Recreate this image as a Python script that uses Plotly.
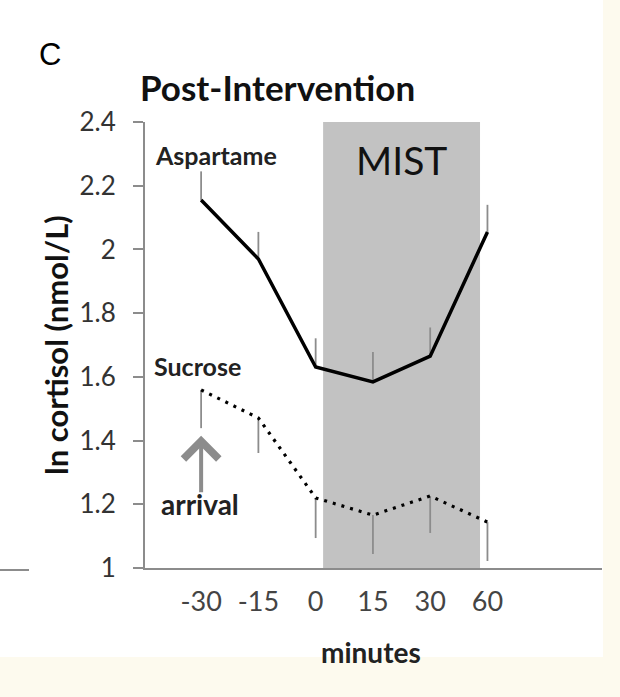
import plotly.graph_objects as go

# ---- data ----
minutes = ["-30", "-15", "0", "15", "30", "60"]
aspartame = [2.155, 1.97, 1.631, 1.584, 1.665, 2.055]
aspartame_err = [0.09, 0.085, 0.09, 0.094, 0.09, 0.085]
sucrose = [1.559, 1.471, 1.22, 1.166, 1.226, 1.144]
sucrose_err = [0.12, 0.11, 0.126, 0.122, 0.116, 0.122]
y_ticks = [1, 1.2, 1.4, 1.6, 1.8, 2, 2.2, 2.4]

W, H = 620, 697
L, R, T, B = 145, 602, 122, 568  # plot area in pixels


def px_x(p):
    return (p - L) / (R - L)


def px_y(p):
    return (B - p) / (B - T)


CREAM = "#fdfaee"
GRAY = "#8c8c8c"
FONT = "Lato"

fig = go.Figure()

fig.add_trace(go.Scatter(
    x=minutes, y=aspartame, mode="lines", name="Aspartame",
    line=dict(color="black", width=3.5),
    error_y=dict(type="data", symmetric=False, array=aspartame_err,
                 arrayminus=[0] * len(aspartame_err), width=0,
                 thickness=1.8, color=GRAY),
    showlegend=False,
))
fig.add_trace(go.Scatter(
    x=minutes, y=sucrose, mode="lines", name="Sucrose",
    line=dict(color="black", width=3.2, dash="3px,6px"),
    error_y=dict(type="data", symmetric=False, array=[0] * len(sucrose_err),
                 arrayminus=sucrose_err, width=0,
                 thickness=1.8, color=GRAY),
    showlegend=False,
))

shapes = [
    # white page area
    dict(type="rect", xref="paper", yref="paper", x0=px_x(0), x1=px_x(603),
         y0=px_y(657), y1=px_y(0), fillcolor="white", line=dict(width=0),
         layer="below"),
    # MIST shaded window
    dict(type="rect", xref="x", yref="y", x0=2.13, x1=4.87, y0=1, y1=2.4,
         fillcolor="#c2c2c2", line=dict(width=0), layer="below"),
    # stray axis line from neighbouring panel
    dict(type="line", xref="paper", yref="paper", x0=px_x(0), x1=px_x(29),
         y0=px_y(570), y1=px_y(570), line=dict(color=GRAY, width=2)),
]

ann = []


def text(t, x, y, size, bold=False, family=FONT, color="black", **kw):
    ann.append(dict(text=f"<b>{t}</b>" if bold else t, xref="paper", yref="paper",
                    x=px_x(x), y=px_y(y), showarrow=False,
                    font=dict(family=family, size=size, color=color),
                    xanchor="center", yanchor="middle", **kw))


text("C", 50, 54, 31, family="Liberation Sans")
text("Post-Intervention", 277, 87, 35, bold=True, color="#111")
text("Aspartame", 216, 155, 25, bold=True, color="#222")
text("Sucrose", 197, 366, 25, bold=True, color="#222")
text("arrival", 200, 504, 28, bold=True, color="#222")
text("MIST", 401, 160, 39, color="#111")
text("minutes", 371, 652, 28, bold=True, color="#222")
text("ln cortisol (nmol/L)", 56, 345, 31, bold=True, color="#111", textangle=-90)

# arrival arrow (points at the first time point)
ann.append(dict(x=minutes.index("-30"), y=1.415, xref="x", yref="y", ax=0, ay=58,
                axref="pixel", ayref="pixel", showarrow=True, arrowhead=4,
                arrowwidth=4, arrowsize=1.7, arrowcolor=GRAY, text=""))

fig.update_layout(
    width=W, height=H,
    margin=dict(l=L, r=W - R, t=T, b=H - B, pad=0),
    paper_bgcolor=CREAM, plot_bgcolor="white",
    shapes=shapes, annotations=ann,
    xaxis=dict(type="category", range=[-0.98, 7.0], showgrid=False,
               zeroline=False, showline=True, linecolor=GRAY, linewidth=2,
               ticks="", tickfont=dict(family=FONT, size=27, color="#444"),
               ticklabelstandoff=9),
    yaxis=dict(range=[1, 2.4], tickvals=y_ticks, showgrid=False,
               zeroline=False, showline=True, linecolor=GRAY, linewidth=2,
               ticks="outside", ticklen=10, tickwidth=2, tickcolor=GRAY,
               tickfont=dict(family=FONT, size=26, color="#333"),
               ticklabelstandoff=12),
)

fig.write_html("out.html", config={"displayModeBar": False},
               post_script="document.body.style.margin='0';")
